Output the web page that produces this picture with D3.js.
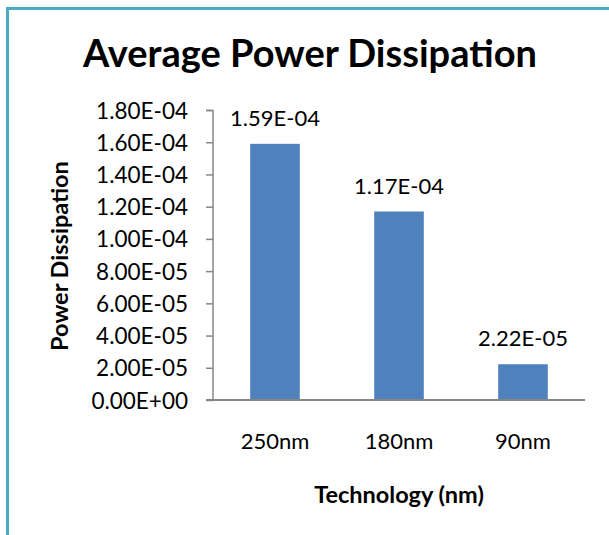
<!DOCTYPE html>
<html>
<head>
<meta charset="utf-8">
<script src="https://cdn.jsdelivr.net/npm/d3@7"></script>
<style>
  html, body { margin: 0; padding: 0; background: #fff; }
  svg { display: block; }
  text { font-family: Lato, "Open Sans", sans-serif; fill: #000; }
</style>
</head>
<body>
<svg id="chart" width="609" height="535"></svg>
<script>
const categories = ["250nm", "180nm", "90nm"];
const values = [1.59e-4, 1.17e-4, 2.22e-5];
const dataLabels = ["1.59E-04", "1.17E-04", "2.22E-05"];
const yTicks = [0, 2e-5, 4e-5, 6e-5, 8e-5, 1.0e-4, 1.2e-4, 1.4e-4, 1.6e-4, 1.8e-4];
const titleText = "Average Power Dissipation";
const xTitle = "Technology (nm)";
const yTitle = "Power Dissipation";

function fmtE(v) {
  const s = v.toExponential(2);
  const [m, e] = s.split("e");
  const sign = e[0] === "-" ? "-" : "+";
  const digits = e.replace(/[+-]/, "").padStart(2, "0");
  return m + "E" + sign + digits;
}

const svg = d3.select("#chart");
svg.append("rect").attr("width", 609).attr("height", 535).attr("fill", "#fff");

// border
svg.append("path")
  .attr("d", "M7.5,535 L7.5,8.5 L609,8.5")
  .attr("fill", "none").attr("stroke", "#4BACC6").attr("stroke-width", 3);

const x = d3.scaleBand().domain(categories).range([213, 585]).paddingInner(0.6).paddingOuter(0.3);
const y = d3.scaleLinear().domain([0, 1.8e-4]).range([400, 110]);

// title
svg.append("text").attr("x", 310).attr("y", 67).attr("text-anchor", "middle")
  .attr("font-size", 38).attr("font-weight", "bold").text(titleText);

// y axis
const yAxis = d3.axisLeft(y).tickValues(yTicks).tickFormat(fmtE).tickSize(7).tickPadding(18);
const gy = svg.append("g").attr("transform", "translate(213,0)").call(yAxis);
gy.select(".domain").attr("stroke", "#868686").attr("stroke-width", 1.5).attr("d", "M-7,110.5H0V400");
gy.selectAll(".tick line").attr("stroke", "#868686").attr("stroke-width", 1.5);
gy.selectAll(".tick text").attr("font-size", 22.5).attr("font-family", "Lato, sans-serif").attr("fill", "#000").attr("dy", "0.36em");

// bars
svg.append("g").selectAll("rect").data(values).join("rect")
  .attr("x", (d, i) => x(categories[i]))
  .attr("width", x.bandwidth())
  .attr("y", d => y(d))
  .attr("height", d => y(0) - y(d))
  .attr("fill", "#4F81BD");

// x axis
const xAxis = d3.axisBottom(x).tickSize(0).tickPadding(0);
const gx = svg.append("g").attr("transform", "translate(0,400)").call(xAxis);
gx.select(".domain").attr("stroke", "#868686").attr("stroke-width", 2).attr("d", "M206,0H585");
gx.selectAll(".tick text").attr("font-size", 22).attr("font-family", "Lato, sans-serif").attr("fill", "#000").attr("dy", null).attr("y", 49);

// data labels
svg.append("g").selectAll("text").data(values).join("text")
  .attr("x", (d, i) => x(categories[i]) + x.bandwidth() / 2)
  .attr("y", d => y(d) - 18)
  .attr("text-anchor", "middle").attr("font-size", 22)
  .text((d, i) => dataLabels[i]);

// axis titles
svg.append("text").attr("x", 399).attr("y", 503).attr("text-anchor", "middle")
  .attr("font-size", 23.5).attr("font-weight", "bold").text(xTitle);
svg.append("text").attr("transform", "translate(68,256) rotate(-90)").attr("text-anchor", "middle")
  .attr("font-size", 23.5).attr("font-weight", "bold").text(yTitle);
</script>
</body>
</html>
